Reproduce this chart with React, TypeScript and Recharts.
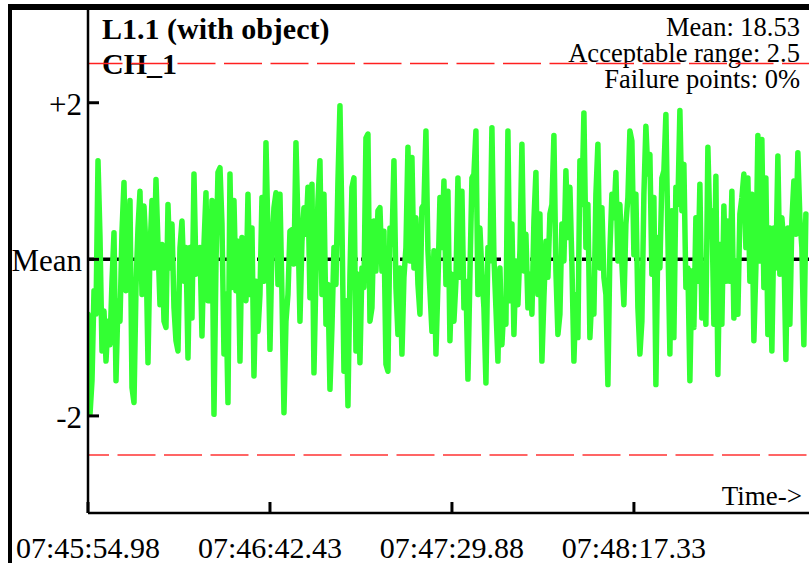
import React from "react"
import { LineChart, Line, XAxis, YAxis, ReferenceLine } from "recharts"

// deviation from the mean left to right
const seg1 = [-0.70, -1.98, -1.55, -0.40, -0.70, 1.26, 0.28, -1.17, -0.66, -1.30, -0.79, -1.09, -0.28, 0.34, -1.55, -0.53, -0.79, 0.36, 0.98, -0.40, -0.11, 0.75, -1.64, -1.83, -0.36, 0.40, 0.87, -0.45, 0.68, 0.15, -1.32, 0.11, 0.75, -0.11, 1.02, 0.19, -0.58, 0.19, -0.79, -0.87, 0.70, -0.11, 0.45, -0.62, -1.04, -1.17, 0.15, 0.49, -0.28, 0.15, -1.26, 0.15, -0.75, 1.09, -0.19, -0.02, 0.15, -0.98, 0.19, 0.85, -0.53, -0.53, 0.75, -1.98, -0.06, 1.11, 1.17, 0.45, -1.21, -0.45, -1.83]
const seg2 = [1.09, -0.36, 0.75, -0.40, 0.23, -1.30, 0.28, -0.36, -0.53, 0.83, -0.45, 0.40, -1.49, -0.28, -0.92, -0.45, 0.79, -0.28, 1.49, 0.32, -1.15, 0.15, 0.66, 0.85, -0.32, 0.83, -0.45, -1.96, -0.79, -0.45, 0.36, 0.38, -0.06, 1.49, 0.45, -0.79, 0.23, 0.66, 0.32, 0.92, -0.49, 0.96, -1.45, -0.19, 0.75, 1.26, -0.45, 0.83, -0.83, -0.32, -1.66, -0.87, 0.15, -0.32, 1.00, 1.96, 0.45, -1.43, -0.53, -1.87, -0.19, 0.92, 1.04, -1.17, -0.19, -1.32, -0.11, -0.36, 1.55, 1.60, -0.79, -0.62, 0.49]
const seg3 = [-0.15, 0.62, 0.66, -0.15, 0.36, -1.34, -1.43, 0.40, 0.19, 1.26, -0.36, -0.96, -0.11, -1.21, -0.23, 0.15, 1.43, -0.02, 1.30, -0.11, 0.53, -0.32, -0.70, 0.66, 0.70, 1.64, 0.11, -0.40, -0.92, 0.11, -1.21, -0.32, 0.79, 0.15, 1.00, -0.32, 0.87, -1.04, -0.19, -0.79, -0.28, 1.04, -0.23, 0.87, -0.62, -0.28, -1.53, -0.19, 1.04, 1.09, 1.64, -0.45, 0.40, -0.19, -0.62, -1.58, 0.15, -0.02, 1.68, 0.02, -0.62, -1.30, -0.11, -1.09, -0.58, -0.83, 1.64, -0.53, 0.45, -0.96, -0.02, -0.58, 0.11, 1.47]
const seg4 = [-0.15, 0.32, -0.62, -0.19, -0.70, 0.49, 1.11, -0.45, 0.58, -1.30, -0.49, 0.23, -0.23, 0.58, 0.70, 1.58, -0.15, -0.96, -0.70, 0.45, -0.02, 1.13, 0.28, 0.92, -0.06, -1.30, -0.45, -1.00, 1.26, 0.70, 1.87, 0.15, 0.70, -1.00, -0.45, -0.70, 0.83, 1.47, -0.11, 0.66, -0.23, -0.45, -1.60, 0.11, 0.83, 0.53, 1.11, -0.02, 0.70, -0.06, -0.58, 0.45, 0.79, 1.64, 1.51, 0.06, 0.83, -0.62, -1.21, -0.79, 0.83, 1.70, 1.09, 1.34, -0.19, 0.79, -1.60, 0.28, -0.11, 1.04, 1.13, 1.85, 0.28, -1.21]
const seg5 = [0.62, -1.00, 0.92, 0.70, 1.90, 0.62, 1.21, -0.36, -0.11, -1.55, -0.15, -0.87, 0.53, -0.28, 0.96, -0.75, -0.28, -0.83, 1.43, 0.40, 0.62, -0.83, 1.06, -1.47, 0.19, -0.83, 0.68, -0.28, 0.49, -0.28, 0.87, -0.75, -0.02, -0.70, 0.58, 0.79, 1.09, 0.15, 1.04, -0.28, 0.83, -1.04, -0.11, 1.58, -0.02, 1.53, -0.36, 1.04, -0.96, 0.40, -1.17, 0.40, -0.11, 1.32, -0.19, 0.53, 0.19, -1.28, 0.40, -0.83, 0.49, 1.00, 0.32, 1.36, 0.53, 0.15, -1.09, 0.58]

const SAMPLE_SEC = 0.5214
const X_TICKS = [0, 47.45, 94.9, 142.35]
const X_LABELS = ["07:45:54.98", "07:46:42.43", "07:47:29.88", "07:48:17.33"]
const Y_TICKS = [-2, 0, 2]
const Y_LABELS = ["-2", "Mean", "+2"]
const LIMIT = 2.5
const INFO = ["Mean: 18.53", "Acceptable range: 2.5", "Failure points: 0%"]

const values = [...seg1, ...seg2, ...seg3, ...seg4, ...seg5]
const data = values.map((v, i) => ({ t: i * SAMPLE_SEC, v }))

const font = "'Liberation Serif', 'Times New Roman', serif"

function YTick({ x, y, payload }: any) {
    const label = Y_LABELS[Y_TICKS.indexOf(payload.value)]
    return (
        <g>
            <line x1={x + 6} x2={x + 17} y1={y} y2={y} stroke="#000" strokeWidth={3} />
            <text x={x} y={y} dy={12} textAnchor="end" fontSize={31} fontFamily={font} fill="#000">{label}</text>
        </g>
    )
}

function XTick({ x, y, payload }: any) {
    const label = X_LABELS[X_TICKS.indexOf(payload.value)]
    return (
        <g>
            <line x1={x} x2={x} y1={y} y2={y - 11} stroke="#000" strokeWidth={3} />
            <text x={x} y={y} dy={45} textAnchor="middle" fontSize={30} fontFamily={font} fill="#000">{label}</text>
        </g>
    )
}

export default function App() {
    return (
        <div style={{ position: "fixed", left: 0, top: 0, width: 809, height: 563, overflow: "hidden", background: "#fff" }}>
            <svg width={809} height={563} style={{ position: "absolute", left: 0, top: 0 }}>
                <text x={102} y={39} fontSize={30} fontWeight="bold" fontFamily={font}>L1.1 (with object)</text>
                <text x={102} y={74} fontSize={30} fontWeight="bold" fontFamily={font}>CH_1</text>
                {INFO.map((s, i) => (
                    <text key={s} x={800} y={36 + i * 26} textAnchor="end" fontSize={26.5} fontFamily={font}>{s}</text>
                ))}
                <text x={802} y={505} textAnchor="end" fontSize={27} fontFamily={font}>Time-&gt;</text>
            </svg>
            <div style={{ position: "absolute", left: 0, top: 0 }}>
                <LineChart width={809} height={563} data={data} margin={{ top: 8, right: 0, bottom: 0, left: 8 }}>
                    <XAxis
                        dataKey="t"
                        type="number"
                        domain={[0, 188]}
                        ticks={X_TICKS}
                        height={50}
                        tickSize={0}
                        tickMargin={0}
                        tick={<XTick />}
                        axisLine={{ stroke: "#000", strokeWidth: 2.5 }}
                        allowDataOverflow
                    />
                    <YAxis
                        type="number"
                        domain={[-3.24, 3.21]}
                        ticks={Y_TICKS}
                        width={80}
                        tickSize={0}
                        tickMargin={6}
                        tick={<YTick />}
                        axisLine={{ stroke: "#000", strokeWidth: 2.5 }}
                        allowDataOverflow
                    />
                    <ReferenceLine y={LIMIT} stroke="#ff2020" strokeWidth={1.5} strokeDasharray="38 8.5" strokeDashoffset={3.5} />
                    <ReferenceLine y={-LIMIT} stroke="#ff3333" strokeWidth={1.5} strokeDasharray="38 8.5" strokeDashoffset={17} />
                    <ReferenceLine y={0} stroke="#000" strokeWidth={3.5} strokeDasharray="10 3" />
                    <Line
                        type="linear"
                        dataKey="v"
                        stroke="#33ff33"
                        strokeWidth={5.5}
                        dot={false}
                        strokeLinejoin="round"
                        strokeLinecap="round"
                        isAnimationActive={false}
                    />
                </LineChart>
            </div>
            <div style={{ position: "absolute", left: 8, top: 4, width: 900, height: 700, borderTop: "6px solid #000", borderLeft: "4px solid #000" }} />
        </div>
    )
}
